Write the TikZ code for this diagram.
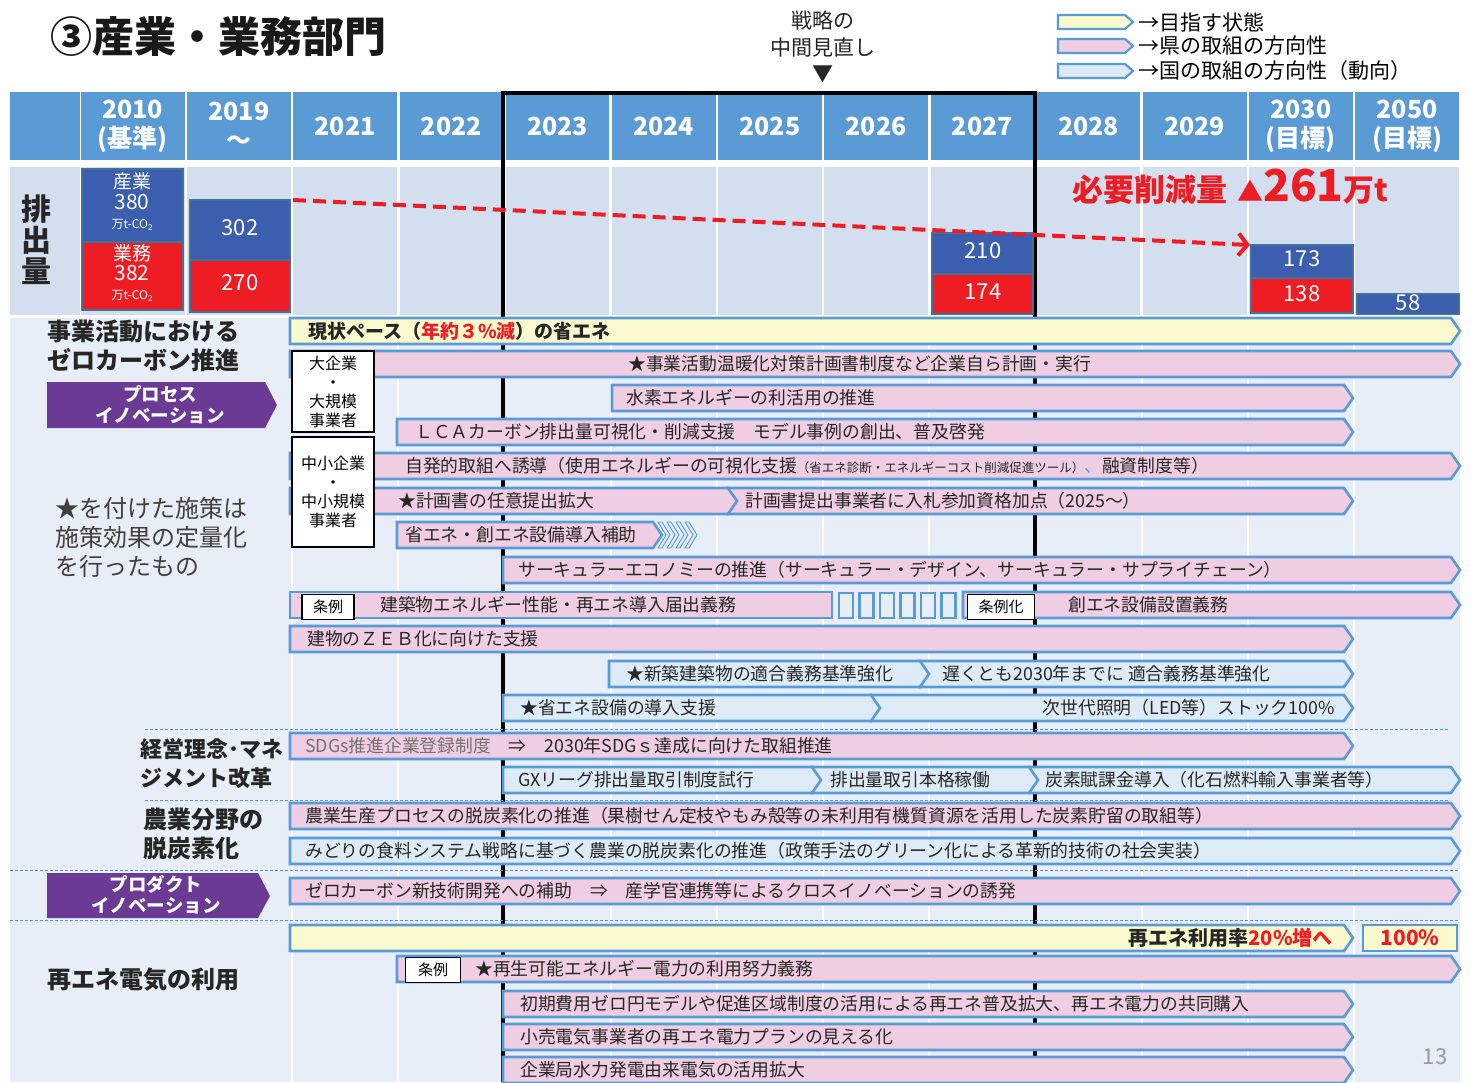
\documentclass[tikz,border=0pt]{standalone}
\usepackage{fontspec}
\setmainfont{Noto Sans CJK JP}
\usetikzlibrary{arrows.meta,positioning}
\definecolor{hdrblue}{HTML}{5B9BD5}
\definecolor{rowgrey}{HTML}{D3DFEF}
\definecolor{bodybg}{HTML}{E8EEF7}
\definecolor{co2blue}{HTML}{3B5FAE}
\definecolor{co2red}{HTML}{EE1D24}
\definecolor{co2edge}{HTML}{41719C}
\definecolor{barpink}{HTML}{EFCDE2}
\definecolor{baryellow}{HTML}{FBF9CE}
\definecolor{barlblue}{HTML}{DDEBF7}
\definecolor{edgeblue}{HTML}{5B9BD5}
\definecolor{purplebox}{HTML}{6A3A94}
\tikzset{%
	barline/.style  = {draw=edgeblue, line width=2.6pt, line join=miter},
	pref/.style     = {barline, fill=barpink},   % 県の取組
	goal/.style     = {barline, fill=baryellow}, % 目指す状態
	natl/.style     = {barline, fill=barlblue},  % 国の取組
	bartext/.style  = {anchor=west, inner sep=0pt, text=black!85, font=\fontsize{17.8}{21}\selectfont},
	yeartext/.style = {align=center, text=white, font=\fontsize{25}{29}\selectfont\bfseries},
	co2bar/.style   = {draw=co2edge, line width=1.5pt},
	co2text/.style  = {text=white, inner sep=0pt, font=\fontsize{22}{24}\selectfont},
	tagbox/.style   = {draw=black, fill=white, line width=1.3pt, inner sep=0pt, minimum height=25, font=\fontsize{15}{17}\selectfont},
	sizebox/.style  = {draw=black, fill=white, line width=1.5pt, inner sep=0pt, minimum width=82, align=center, font=\fontsize{16}{19}\selectfont},
	headlbl/.style  = {anchor=west, inner sep=0pt, align=left, text=black!85, font=\fontsize{24}{29}\selectfont\bfseries},
	innovtext/.style= {align=center, text=white, inner sep=0pt, font=\fontsize{18.5}{21}\selectfont\bfseries},
	dashsep/.style  = {draw=edgeblue, line width=1pt, dash pattern=on 3pt off 2pt},
}
% [tip] style, left, right, centre y
\newcommand{\arrowbar}[5][9]{%
	\draw[#2] (#3,#5-13) -- (#4-#1,#5-13) -- (#4,#5) -- (#4-#1,#5+13) -- (#3,#5+13) -- cycle;}

\begin{document}
\begin{tikzpicture}[x=1pt,y=-1pt]
	\useasboundingbox[fill=white] (0,0) rectangle (1471,1082);

	% title and legend
	\node[anchor=west, inner sep=0pt, text=black!90, font=\fontsize{42}{46}\selectfont\bfseries] (title) at (50,37) {③産業・業務部門};
	\node[align=center, inner sep=0pt, text=black!85, font=\fontsize{21}{26.5}\selectfont] (review) at (823,47) {戦略の\\中間見直し\\▼};
	\draw[goal, line width=2.2pt] (1058,15) -- (1125,15) -- (1133,22) -- (1125,29) -- (1058,29) -- cycle;
	\draw[pref, line width=2.2pt] (1058,39) -- (1125,39) -- (1133,46) -- (1125,53) -- (1058,53) -- cycle;
	\draw[natl, line width=2.2pt] (1058,64) -- (1125,64) -- (1133,71) -- (1125,78) -- (1058,78) -- cycle;
	\node[anchor=west, inner sep=0pt, font=\fontsize{21}{23}\selectfont] (lg1) at (1138,22) {→目指す状態};
	\node[anchor=west, inner sep=0pt, font=\fontsize{21}{23}\selectfont] (lg2) at (1138,46) {→県の取組の方向性};
	\node[anchor=west, inner sep=0pt, font=\fontsize{21}{23}\selectfont] (lg3) at (1138,71) {→国の取組の方向性（動向）};

	% header and emission row
	\fill[hdrblue] (10,92) rectangle (80,160);
	\fill[rowgrey] (10,167) rectangle (80,315);
	\node[align=center, inner sep=0pt, text=black!85, font=\fontsize{30}{31}\selectfont\bfseries] (emis) at (36,240) {排\\出\\量};
	\foreach \yr [count=\k from 0] in {{2010\\(基準)},{2019\\～},2021,2022,2023,2024,2025,2026,2027,2028,2029,{2030\\(目標)},{2050\\(目標)}}{
		\fill[hdrblue] ({81+106.2*\k},92) rectangle ++(103.5,68);
		\fill[rowgrey] ({81+106.2*\k},167) rectangle ++(103.5,148);
		\node[yeartext] (yr\k) at ({81+106.2*\k+51.75},126) {\yr};
	}

	% body
	\fill[bodybg] (10,318) rectangle (1460,1082);
	\foreach \k in {2,...,12}
		\draw[white, line width=2pt] ({81+106.2*\k-1.5},318) -- ({81+106.2*\k-1.5},1082);
	\draw[line width=4pt] (503,1082) -- (503,93) -- (1035,93) -- (1035,1082);

	% emissions
	\draw[co2bar, fill=co2blue] (82,169) rectangle (183,242);
	\draw[co2bar, fill=co2red] (82,242) rectangle (183,310);
	\node[co2text, font=\fontsize{19}{20}\selectfont] (ind) at (132,181) {産業};
	\node[co2text, font=\fontsize{21}{22}\selectfont] (ind10) at (132,202) {380};
	\node[co2text, font=\fontsize{12}{13}\selectfont] (indu) at (132,225) {万t-CO\raisebox{-0.3ex}{\fontsize{8}{8}\selectfont 2}};
	\node[co2text, font=\fontsize{19}{20}\selectfont] (com) at (132,253) {業務};
	\node[co2text, font=\fontsize{21}{22}\selectfont] (com10) at (132,273) {382};
	\node[co2text, font=\fontsize{12}{13}\selectfont] (comu) at (132,296) {万t-CO\raisebox{-0.3ex}{\fontsize{8}{8}\selectfont 2}};
	\draw[co2bar, fill=co2blue] (190,200) rectangle (290,260);
	\draw[co2bar, fill=co2red] (190,260) rectangle (290,312);
	\node[co2text] (ind19) at (240,228) {302};
	\node[co2text] (com19) at (240,283) {270};
	\draw[co2bar, fill=co2blue] (932,233) rectangle (1033,274);
	\draw[co2bar, fill=co2red] (932,274) rectangle (1033,314);
	\node[co2text] (ind27) at (983,251) {210};
	\node[co2text] (com27) at (983,292) {174};
	\draw[co2bar, fill=co2blue] (1251,245) rectangle (1353,278);
	\draw[co2bar, fill=co2red] (1251,278) rectangle (1353,313);
	\node[co2text] (ind30) at (1302,259) {173};
	\node[co2text] (com30) at (1302,294) {138};
	\draw[co2bar, fill=co2blue] (1357,294) rectangle (1459,314);
	\node[co2text] (tot50) at (1408,303) {58};
	\coordinate (trendA) at (293,200);
	\coordinate (trendB) at (1250,245);
	\draw[co2red, line width=4pt, dash pattern=on 13pt off 7pt, -{Straight Barb[length=9pt,width=22pt,line width=4pt]}] (trendA) -- (trendB);
	\node[anchor=base west, inner sep=0pt, text=co2red, font=\bfseries] (cut) at (1072,201)
		{\fontsize{31}{32}\selectfont 必要削減量\hspace{10pt}{\fontsize{26}{28}\selectfont ▲}\fontsize{44}{46}\selectfont 261\fontsize{31}{32}\selectfont 万t};

	% left labels
	\node[headlbl] (zero) at (47,346) {事業活動における\\ゼロカーボン推進};
	\fill[purplebox] (47,382) -- (265,382) -- (277,405) -- (265,428) -- (47,428) -- cycle;
	\node[innovtext] (proc) at (160,405) {プロセス\\イノベーション};
	\node[anchor=north west, inner sep=0pt, align=left, text=black!75, font=\fontsize{24}{29}\selectfont] (star) at (55,497) {★を付けた施策は\\施策効果の定量化\\を行ったもの};
	\node[headlbl, font=\fontsize{22}{29}\selectfont\bfseries] (mgmt) at (140,764) {経営理念･マネ\\ジメント改革};
	\node[headlbl] (agri) at (143,834) {農業分野の\\脱炭素化};
	\fill[purplebox] (47,873) -- (258,873) -- (270,896) -- (258,918) -- (47,918) -- cycle;
	\node[innovtext] (prod) at (156,895) {プロダクト\\イノベーション};
	\node[headlbl] (renew) at (47,980) {再エネ電気の利用};

	% bars
	\arrowbar{goal}{290}{1460}{331}
	\arrowbar{pref}{290}{1460}{364}
	\arrowbar{pref}{612}{1353}{398}
	\arrowbar{pref}{397}{1353}{432}
	\arrowbar{pref}{290}{1460}{466}
	\arrowbar{pref}{728}{1353}{501}
	\arrowbar{pref}{290}{737}{501}
	\arrowbar{pref}{397}{662}{535}
	\foreach \cx in {658,667,676,685}
		\draw[draw=edgeblue, fill=barlblue, line width=0.9pt] (\cx,522) -- (\cx+4,522) -- (\cx+12,535) -- (\cx+4,548) -- (\cx,548) -- (\cx+8,535) -- cycle;
	\arrowbar{pref}{503}{1460}{570}
	\arrowbar[0]{pref}{290}{832}{605}
	\foreach \i in {0,...,5}
		\draw[draw=edgeblue, line width=2.2pt, fill=bodybg] ({839+20.5*\i},593) rectangle ++(14,25);
	\arrowbar{pref}{963}{1460}{605}
	\arrowbar{pref}{290}{1353}{639}
	\arrowbar{natl}{920}{1353}{674}
	\arrowbar{natl}{609}{929}{674}
	\arrowbar{natl}{871}{1353}{708}
	\arrowbar{natl}{503}{880}{708}
	\draw[dashsep] (145,729) -- (1450,729);
	\arrowbar{pref}{290}{1353}{746}
	\arrowbar{natl}{1030}{1460}{780}
	\arrowbar{natl}{812}{1038}{780}
	\arrowbar{natl}{503}{821}{780}
	\draw[dashsep] (145,800) -- (1450,800);
	\arrowbar{pref}{290}{1460}{816}
	\arrowbar{natl}{290}{1460}{851}
	\draw[dashsep] (10,870) -- (1460,870);
	\arrowbar{pref}{290}{1460}{891}
	\draw[dashsep] (10,920) -- (1460,920);
	\arrowbar{goal}{290}{1353}{938}
	\arrowbar[0]{goal}{1363}{1457}{938}
	\arrowbar{pref}{397}{1460}{969}
	\arrowbar{pref}{503}{1353}{1004}
	\arrowbar{pref}{503}{1353}{1037}
	\arrowbar{pref}{503}{1353}{1070}

	% boxes over the bars
	\node[sizebox, minimum height=81] (large) at (333,391.5) {大企業\\・\\大規模\\事業者};
	\node[sizebox, minimum height=110] (small) at (333,492) {中小企業\\・\\中小規模\\事業者};
	\node[tagbox, minimum width=52] (ord1) at (328,607) {条例};
	\node[tagbox, minimum width=67] (ord2) at (1001,607) {条例化};
	\node[tagbox, minimum width=55] (ord3) at (433,970) {条例};

	% bar texts
	\node[bartext, font=\fontsize{19}{21}\selectfont\bfseries] (t1) at (308,331) {現状ペース（\textcolor{co2red}{年約３\%減}）の省エネ};
	\node[bartext] (t2) at (628,364) {★事業活動温暖化対策計画書制度など企業自ら計画・実行};
	\node[bartext] (t3) at (626,398) {水素エネルギーの利活用の推進};
	\node[bartext] (t4) at (415,432) {ＬＣＡカーボン排出量可視化・削減支援　モデル事例の創出、普及啓発};
	\node[bartext] (t5) at (405,466) {自発的取組へ誘導（使用エネルギーの可視化支援{\fontsize{12.5}{14}\selectfont（省エネ診断・エネルギーコスト削減促進ツール）}\textcolor{edgeblue}{、}融資制度等）};
	\node[bartext] (t6a) at (398,501) {★計画書の任意提出拡大};
	\node[bartext] (t6b) at (745,501) {計画書提出事業者に入札参加資格加点（2025～）};
	\node[bartext] (t7) at (405,535) {省エネ・創エネ設備導入補助};
	\node[bartext] (t8) at (518,570) {サーキュラーエコノミーの推進（サーキュラー・デザイン、サーキュラー・サプライチェーン）};
	\node[bartext] (t9a) at (380,605) {建築物エネルギー性能・再エネ導入届出義務};
	\node[bartext] (t9b) at (1068,605) {創エネ設備設置義務};
	\node[bartext] (t10) at (307,639) {建物のＺＥＢ化に向けた支援};
	\node[bartext] (t11a) at (626,674) {★新築建築物の適合義務基準強化};
	\node[bartext] (t11b) at (942,674) {遅くとも2030年までに 適合義務基準強化};
	\node[bartext] (t12a) at (520,708) {★省エネ設備の導入支援};
	\node[bartext, anchor=east] (t12b) at (1335,708) {次世代照明（LED等）ストック100\%};
	\node[bartext] (t13) at (305,746) {\textcolor{black!55}{SDGs推進企業登録制度}　⇒　2030年SDGｓ達成に向けた取組推進};
	\node[bartext] (t14a) at (518,780) {GXリーグ排出量取引制度試行};
	\node[bartext] (t14b) at (830,780) {排出量取引本格稼働};
	\node[bartext] (t14c) at (1045,780) {炭素賦課金導入（化石燃料輸入事業者等）};
	\node[bartext] (t15) at (305,816) {農業生産プロセスの脱炭素化の推進（果樹せん定枝やもみ殻等の未利用有機質資源を活用した炭素貯留の取組等）};
	\node[bartext] (t16) at (305,851) {みどりの食料システム戦略に基づく農業の脱炭素化の推進（政策手法のグリーン化による革新的技術の社会実装）};
	\node[bartext] (t17) at (305,891) {ゼロカーボン新技術開発への補助　⇒　産学官連携等によるクロスイノベーションの誘発};
	\node[bartext, anchor=east, font=\fontsize{20}{22}\selectfont\bfseries] (t18) at (1333,938) {再エネ利用率\textcolor{co2red}{20\%増へ}};
	\node[inner sep=0pt, text=co2red, font=\fontsize{21}{23}\selectfont\bfseries] (t18b) at (1410,938) {100\%};
	\node[bartext] (t19) at (475,969) {★再生可能エネルギー電力の利用努力義務};
	\node[bartext] (t20) at (520,1004) {初期費用ゼロ円モデルや促進区域制度の活用による再エネ普及拡大、再エネ電力の共同購入};
	\node[bartext] (t21) at (520,1037) {小売電気事業者の再エネ電力プランの見える化};
	\node[bartext] (t22) at (520,1070) {企業局水力発電由来電気の活用拡大};
	\node[inner sep=0pt, text=black!40, font=\fontsize{22}{24}\selectfont] (page) at (1435,1057) {13};
\end{tikzpicture}
\end{document}
